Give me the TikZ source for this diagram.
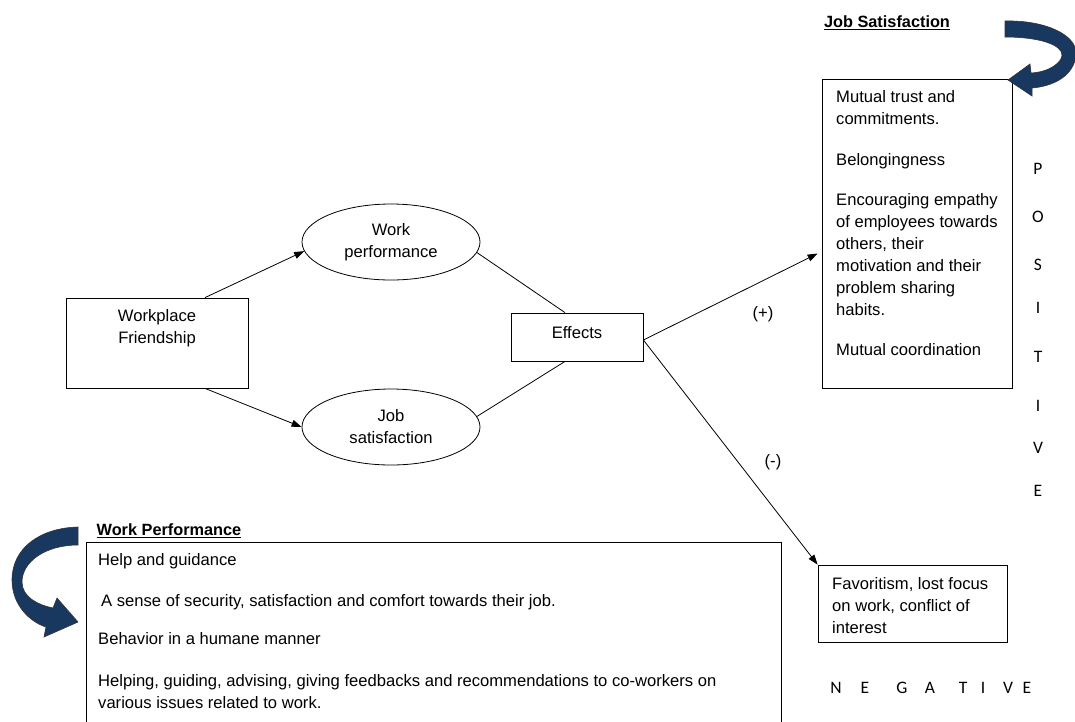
\documentclass[tikz,border=0pt]{standalone}
\usepackage{fontspec}
\setmainfont{Liberation Sans}
\newfontfamily\capsfont{Carlito}
\usetikzlibrary{shapes.geometric,arrows.meta,positioning,calc}
\definecolor{ribbon}{RGB}{24,56,96}

\begin{document}
\begin{tikzpicture}[
    x=1pt, y=-1pt,
    font={\fontsize{16.6}{22}\selectfont},
    field/.style={draw, line width=0.8pt, inner sep=0pt},
    bubble/.style={draw, ellipse, line width=0.8pt, minimum width=178pt, minimum height=76pt, align=center, inner sep=0pt},
    body/.style={align=left, inner sep=0pt, anchor=north west},
    heading/.style={font={\fontsize{16.3}{22}\selectfont\bfseries}, inner sep=0pt},
    letter/.style={font={\capsfont\fontsize{17.5}{18}\selectfont}, inner sep=0pt},
    link/.style={line width=0.8pt},
    arrow/.style={link, -{Triangle[length=10pt,width=7pt]}},
    swirl/.style={fill=ribbon, draw=black!80, line width=0.6pt}
]
\useasboundingbox (0,0) rectangle (1075,721);

% model
\node[field, minimum width=182pt, minimum height=90pt] (friend) at (157,343) {};
\node[align=center, inner sep=0pt] (friendlbl) at (157,328) {Workplace\\Friendship};
\node[bubble] (workperf) at (391,242) {Work\\performance};
\node[bubble] (jobsat) at (391,427) {Job\\satisfaction};
\node[field, minimum width=132pt, minimum height=48pt] (effects) at (577,337) {};
\node[inner sep=0pt] (effectslbl) at (577,333) {Effects};

% positive side
\node[heading] (jstitle) at (887,23) {\underline{Job Satisfaction}};
\node[field, minimum width=190pt, minimum height=309pt] (positive) at (917,233.5) {};
\node[body] (postext) at (836,90) {Mutual trust and\\commitments.\\[19pt]Belongingness\\[18pt]Encouraging empathy\\of employees towards\\others, their\\motivation and their\\problem sharing\\habits.\\[18pt]Mutual coordination};
\node[inner sep=0pt] (plus) at (763,314) {(+)};

% negative side
\node[field, minimum width=189pt, minimum height=77pt] (negative) at (912.5,603.5) {};
\node[body] (negtext) at (832,577) {Favoritism, lost focus\\on work, conflict of\\interest};
\node[inner sep=0pt] (minus) at (773,462) {(-)};

% work performance list
\node[heading] (wptitle) at (169,531) {\underline{Work Performance}};
\node[field, minimum width=695pt, minimum height=200pt] (perfbox) at (433.5,642) {};
\node[body] (perftext) at (98,553) {Help and guidance\\[19pt]\hspace{3pt}A sense of security, satisfaction and comfort towards their job.\\[16pt]Behavior in a humane manner\\[20pt]Helping, guiding, advising, giving feedbacks and recommendations to co-workers on\\various issues related to work.};

\foreach \ch/\yy [count=\i] in {P/169, O/217, S/265, I/308, T/357, I/406, V/448, E/491}
  \node[letter] (pos\i) at (1038,\yy) {\ch};
\foreach \ch/\xx [count=\i] in {N/836, E/865, G/902, A/930, T/963, I/983, V/1008, E/1027}
  \node[letter] (neg\i) at (\xx,688) {\ch};

% connectors
\draw[arrow] ([shift={(48,0)}]friend.north) -- (workperf.186);
\draw[arrow] ([shift={(48,0)}]friend.south) -- (jobsat.west);
\draw[link] (workperf.-7) -- ([shift={(-12,0)}]effects.north);
\draw[link] (jobsat.7) -- ([shift={(-12,0)}]effects.south);
\draw[arrow] ([shift={(0,3)}]effects.east) -- ([shift={(-4,20)}]positive.west);
\draw[arrow] ([shift={(0,3)}]effects.east) -- (negative.north west);

% curved arrows
\draw[swirl] (1005,21) .. controls (1045,20) and (1078,35) .. (1076,55)
  .. controls (1074,75) and (1055,86) .. (1032,88) -- (1032,96) -- (1008,80) -- (1030,64) -- (1031,73)
  .. controls (1050,72) and (1062,62) .. (1062,55) .. controls (1062,45) and (1040,37) .. (1005,37) -- cycle;
\draw[swirl] (78,527) .. controls (40,528) and (12,548) .. (12,580)
  .. controls (12,605) and (30,622) .. (46,627) -- (44,637) -- (78,622) -- (57,598) -- (53,608)
  .. controls (38,605) and (22,597) .. (22,582) .. controls (22,562) and (45,545) .. (78,545) -- cycle;
\end{tikzpicture}
\end{document}
